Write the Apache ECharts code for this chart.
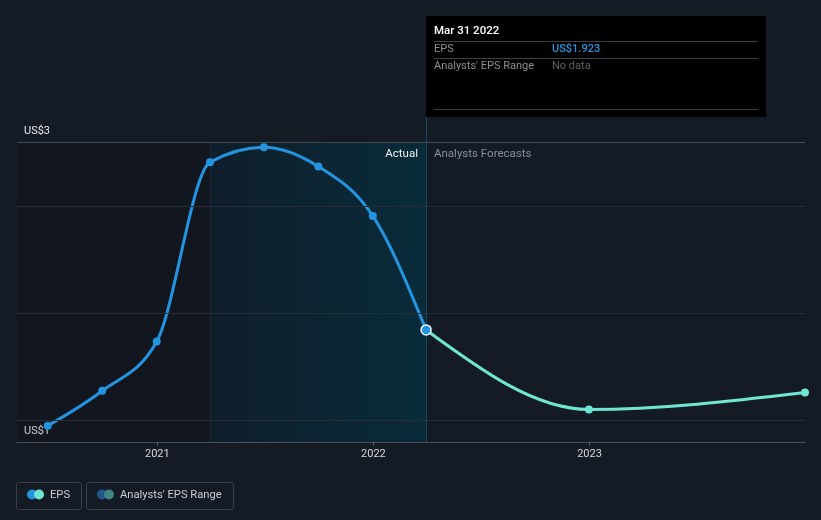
<!DOCTYPE html>
<html>
<head>
<meta charset="utf-8">
<script src="https://cdn.jsdelivr.net/npm/echarts@6/dist/echarts.min.js"></script>
<style>
  html, body { margin: 0; padding: 0; background: #151b25; }
  #chart { width: 821px; height: 520px; }
</style>
</head>
<body>
<div id="chart"></div>
<script>
// ---- data ----
const actualDates = ['2020-06-30', '2020-09-30', '2020-12-31', '2021-03-31', '2021-06-30', '2021-09-30', '2021-12-31', '2022-03-31'];
const actualEps = [1.476, 1.639, 1.869, 2.706, 2.776, 2.686, 2.455, 1.923];
const forecastDates = ['2022-03-31', '2022-12-31', '2023-12-31'];
const forecastEps = [1.923, 1.552, 1.631];
const yearTicks = ['2021-01-01', '2022-01-01', '2023-01-01'];
const gridValues = [1.5, 2.0, 2.5];
const yLabelValues = [1.4, 2.8];
const axisStart = '2020-05-09';
const axisEnd = '2023-12-31';
const yMin = 1.4, yMax = 2.8;
const pastYearStart = '2021-03-31';
const lastActual = '2022-03-31';
const tooltipTitle = 'Mar 31 2022';
const tooltipEps = 'US$1.923';

const FONT = 'Roboto, "Noto Sans", sans-serif';
const BLUE = '#2394df';
const MINT = '#6fe6d2';

const chart = echarts.init(document.getElementById('chart'), null, { renderer: 'canvas' });

const ts = d => Date.UTC(+d.slice(0, 4), +d.slice(5, 7) - 1, +d.slice(8, 10));

// monotone-x cubic curve (same maths as d3.curveMonotoneX) in pixel space
function sgn(x) { return x < 0 ? -1 : 1; }
function monotoneSegments(pts) {
  const n = pts.length;
  if (n < 2) return [];
  const t = new Array(n);
  for (let i = 1; i < n - 1; i++) {
    const h0 = pts[i][0] - pts[i - 1][0], h1 = pts[i + 1][0] - pts[i][0];
    const s0 = (pts[i][1] - pts[i - 1][1]) / h0, s1 = (pts[i + 1][1] - pts[i][1]) / h1;
    const p = (s0 * h1 + s1 * h0) / (h0 + h1);
    t[i] = (sgn(s0) + sgn(s1)) * Math.min(Math.abs(s0), Math.abs(s1), 0.5 * Math.abs(p)) || 0;
  }
  if (n === 2) {
    const s = (pts[1][1] - pts[0][1]) / (pts[1][0] - pts[0][0]);
    t[0] = s; t[1] = s;
  } else {
    const h0 = pts[1][0] - pts[0][0];
    t[0] = (3 * (pts[1][1] - pts[0][1]) / h0 - t[1]) / 2;
    const hn = pts[n - 1][0] - pts[n - 2][0];
    t[n - 1] = (3 * (pts[n - 1][1] - pts[n - 2][1]) / hn - t[n - 2]) / 2;
  }
  const segs = [];
  for (let i = 0; i < n - 1; i++) {
    const dx = (pts[i + 1][0] - pts[i][0]) / 3;
    segs.push({
      x1: pts[i][0], y1: pts[i][1],
      cpx1: pts[i][0] + dx, cpy1: pts[i][1] + dx * t[i],
      cpx2: pts[i + 1][0] - dx, cpy2: pts[i + 1][1] - dx * t[i + 1],
      x2: pts[i + 1][0], y2: pts[i + 1][1]
    });
  }
  return segs;
}
function curveSeries(name, dates, values, color, z) {
  return {
    name: name,
    type: 'custom',
    silent: true,
    z: z,
    data: dates.map((d, i) => [ts(d), values[i]]),
    renderItem: function (params, api) {
      if (params.dataIndex !== 0) return null;
      const pts = dates.map((d, i) => api.coord([ts(d), values[i]]));
      return {
        type: 'group',
        children: monotoneSegments(pts).map(s => ({
          type: 'bezierCurve',
          shape: s,
          style: { stroke: color, lineWidth: 3, fill: null, lineCap: 'round' }
        }))
      };
    }
  };
}

const actualPoints = actualDates.map((d, i) => {
  const item = { value: [ts(d), actualEps[i]] };
  if (i === actualDates.length - 1) {
    item.symbolSize = 10;
    item.itemStyle = { color: BLUE, borderColor: '#e8f4ff', borderWidth: 1.5 };
  }
  return item;
});
const forecastPoints = forecastDates.slice(1).map((d, i) => [ts(d), forecastEps[i + 1]]);

const option = {
  backgroundColor: '#151b25',
  animation: false,
  textStyle: { fontFamily: FONT },
  grid: { left: 17, right: 16, top: 142, bottom: 78 },
  xAxis: {
    type: 'value',
    min: ts(axisStart),
    max: ts(axisEnd),
    axisLine: { show: true, lineStyle: { color: '#4b5058', width: 1 } },
    axisTick: { show: true, customValues: yearTicks.map(ts), length: 4, lineStyle: { color: '#555a62' } },
    axisLabel: {
      customValues: yearTicks.map(ts),
      formatter: v => String(new Date(v).getUTCFullYear()),
      color: '#d6d8db', fontSize: 11, margin: 7, fontFamily: FONT
    },
    splitLine: { show: false }
  },
  yAxis: {
    type: 'value',
    min: yMin, max: yMax,
    axisLine: { show: false },
    axisTick: { show: false },
    splitLine: { show: false },
    axisLabel: {
      customValues: yLabelValues,
      showMinLabel: true,
      showMaxLabel: true,
      inside: true,
      margin: 7,
      verticalAlign: 'bottom',
      padding: [0, 0, 5, 0],
      formatter: v => 'US$' + Math.round(v),
      color: '#e8eaec', fontSize: 11, fontFamily: FONT
    }
  },
  series: [
    {
      name: 'EPS',
      type: 'scatter',
      data: actualPoints,
      symbol: 'circle',
      symbolSize: 8,
      itemStyle: { color: BLUE, opacity: 1 },
      z: 6,
      silent: true,
      markArea: {
        silent: true,
        data: [
          [
            { xAxis: ts(axisStart), itemStyle: { color: 'rgba(0,0,0,0.15)' } },
            { xAxis: ts(pastYearStart) }
          ],
          [
            {
              xAxis: ts(pastYearStart),
              itemStyle: {
                color: new echarts.graphic.LinearGradient(0, 0, 1, 0, [
                  { offset: 0, color: '#0f1e2a' },
                  { offset: 1, color: '#092b3a' }
                ])
              }
            },
            { xAxis: ts(lastActual) }
          ]
        ]
      },
      markLine: {
        silent: true,
        symbol: 'none',
        animation: false,
        data: [
          ...gridValues.map(v => ({ yAxis: v, label: { show: false },
            lineStyle: { color: '#272d36', width: 1, type: 'solid' } })),
          { yAxis: yMax, label: { show: false }, lineStyle: { color: '#444a52', width: 1, type: 'solid' } },
          { xAxis: ts(pastYearStart), label: { show: false }, lineStyle: { color: '#14303d', width: 1, type: 'solid' } },
          { xAxis: ts(lastActual), label: { show: false }, lineStyle: { color: '#1b4a5d', width: 1, type: 'solid' } }
        ]
      }
    },
    {
      name: 'EPS forecast',
      type: 'scatter',
      data: forecastPoints,
      symbol: 'circle',
      symbolSize: 8,
      itemStyle: { color: MINT, opacity: 1 },
      z: 5,
      silent: true
    },
    curveSeries('EPS line', actualDates, actualEps, BLUE, 4),
    curveSeries('EPS forecast line', forecastDates, forecastEps, MINT, 3)
  ]
};

chart.setOption(option);

// ---- overlays positioned through the chart's own scales ----
const xCut = chart.convertToPixel({ xAxisIndex: 0 }, ts(lastActual));
const yTop = chart.convertToPixel({ yAxisIndex: 0 }, yMax);
const boxTop = 16, boxH = 101, boxW = 340;
const bx = Math.round(xCut);

function legendItem(x, w, label, c1, c2) {
  return {
    type: 'group',
    children: [
      { type: 'rect', shape: { x: x + 0.5, y: 482.5, width: w, height: 27, r: 2 },
        style: { fill: 'transparent', stroke: '#3a4048', lineWidth: 1 } },
      { type: 'circle', shape: { cx: x + 16, cy: 494.5, r: 5 }, style: { fill: c1 } },
      { type: 'circle', shape: { cx: x + 23, cy: 494.5, r: 5 }, style: { fill: c2 } },
      { type: 'text', style: { x: x + 34, y: 495, text: label, fill: '#c9ccd0',
        font: '11.2px ' + FONT, verticalAlign: 'middle' } }
    ]
  };
}

chart.setOption({
  graphic: [
    { type: 'line', shape: { x1: bx + 0.5, y1: boxTop + boxH, x2: bx + 0.5, y2: yTop },
      style: { stroke: '#1b4a5d', lineWidth: 1 }, z: 1 },
    { type: 'text', style: { x: bx - 8, y: 154, text: 'Actual', fill: '#f0f2f4',
      font: '11.5px ' + FONT, align: 'right', verticalAlign: 'middle' }, z: 10 },
    { type: 'text', style: { x: bx + 8, y: 154, text: 'Analysts Forecasts', fill: '#8a8f96',
      font: '11.5px ' + FONT, align: 'left', verticalAlign: 'middle' }, z: 10 },
    {
      type: 'group', z: 20,
      children: [
        { type: 'rect', shape: { x: bx, y: boxTop, width: boxW, height: boxH },
          style: { fill: '#000000' } },
        { type: 'text', style: { x: bx + 8, y: 31, text: tooltipTitle, fill: '#ffffff',
          font: '500 11.5px ' + FONT, verticalAlign: 'middle' } },
        { type: 'line', shape: { x1: bx + 8, y1: 41.5, x2: bx + boxW - 8, y2: 41.5 },
          style: { stroke: '#3c3f44', lineWidth: 1 } },
        { type: 'text', style: { x: bx + 8, y: 49.5, text: 'EPS', fill: '#8c9096',
          font: '11px ' + FONT, verticalAlign: 'middle' } },
        { type: 'text', style: { x: bx + 126, y: 49.5, text: tooltipEps, fill: BLUE,
          font: '500 11px ' + FONT, verticalAlign: 'middle' } },
        { type: 'line', shape: { x1: bx + 8, y1: 58.5, x2: bx + boxW - 8, y2: 58.5 },
          style: { stroke: '#3c3f44', lineWidth: 1 } },
        { type: 'text', style: { x: bx + 8, y: 66.5, text: "Analysts' EPS Range", fill: '#8c9096',
          font: '11px ' + FONT, verticalAlign: 'middle' } },
        { type: 'text', style: { x: bx + 126, y: 66.5, text: 'No data', fill: '#5c6066',
          font: '11px ' + FONT, verticalAlign: 'middle' } },
        { type: 'line', shape: { x1: bx + 8, y1: 109.5, x2: bx + boxW - 8, y2: 109.5 },
          style: { stroke: '#3c3f44', lineWidth: 1 } }
      ]
    },
    legendItem(16, 65, 'EPS', BLUE, MINT),
    legendItem(86, 147, "Analysts' EPS Range", '#22578a', '#3f8682')
  ]
});
</script>
</body>
</html>
